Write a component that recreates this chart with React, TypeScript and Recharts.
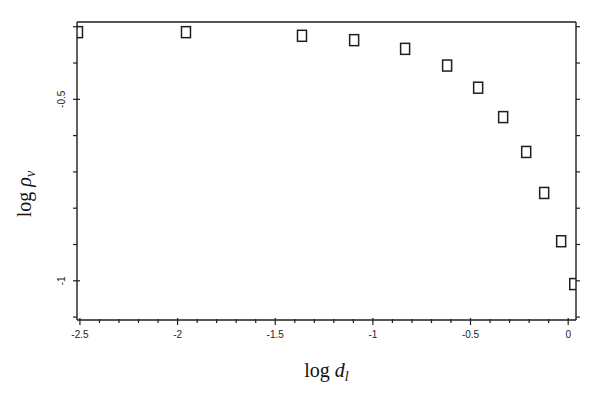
import React from 'react';
import { ScatterChart, Scatter, XAxis, YAxis, Label } from 'recharts';

// values
const logD = [-2.51, -1.957, -1.363, -1.096, -0.835, -0.62, -0.461, -0.333, -0.215, -0.123, -0.036, 0.031];
const logRho = [-0.315, -0.315, -0.325, -0.337, -0.361, -0.407, -0.468, -0.549, -0.645, -0.758, -0.891, -1.009];

const xTicks = [-2.5, -2.4, -2.3, -2.2, -2.1, -2, -1.9, -1.8, -1.7, -1.6, -1.5, -1.4, -1.3, -1.2, -1.1, -1, -0.9, -0.8, -0.7, -0.6, -0.5, -0.4, -0.3, -0.2, -0.1, 0];
const xLabels = ['-2.5', '-2', '-1.5', '-1', '-0.5', '0'];
const yTicks = [-0.3, -0.4, -0.5, -0.6, -0.7, -0.8, -0.9, -1, -1.1];
const yLabels = ['-0.5', '-1'];

const xDomain = [-2.515, 0.04];
const yDomain = [-1.108, -0.287];

const INK = '#1e1e1e';
const SANS = '"Liberation Sans", Arial, sans-serif';
const SERIF = '"Liberation Serif", "Times New Roman", serif';

const data = logD.map((x, i) => ({ x, y: logRho[i] }));

const BottomTick = ({ x, y, payload }: any) => {
  const label = String(payload.value);
  const major = xLabels.includes(label);
  return (
    <g>
      <line x1={x} x2={x} y1={major ? y - 2 : y - 1} y2={major ? y + 5 : y + 3} stroke={INK} strokeWidth={1.2} />
      {major && (
        <text x={x} y={y + 18} textAnchor="middle" fontSize={10} fontFamily={SANS} fill={INK}>
          {label}
        </text>
      )}
    </g>
  );
};

const TopTick = ({ x, y, payload }: any) => {
  const major = xLabels.includes(String(payload.value));
  return <line x1={x} x2={x} y1={y} y2={major ? y - 7 : y - 4} stroke={INK} strokeWidth={1.2} />;
};

const LeftTick = ({ x, y, payload }: any) => {
  const label = String(payload.value);
  const major = yLabels.includes(label);
  return (
    <g>
      <line x1={x - 4} x2={major ? x + 3 : x} y1={y} y2={y} stroke={INK} strokeWidth={1.2} />
      {major && (
        <text
          x={x - 15}
          y={y}
          textAnchor="middle"
          dominantBaseline="central"
          fontSize={10}
          fontFamily={SANS}
          fill={INK}
          transform={`rotate(-90, ${x - 15}, ${y})`}
        >
          {label}
        </text>
      )}
    </g>
  );
};

const RightTick = ({ x, y }: any) => (
  <line x1={x} x2={x + 4} y1={y} y2={y} stroke={INK} strokeWidth={1.2} />
);

const XTitle = ({ viewBox }: any) => {
  const cx = viewBox.x + viewBox.width / 2;
  const by = viewBox.y + 57;
  return (
    <text x={cx} y={by} textAnchor="middle" fontSize={20} fontFamily={SERIF} fill="#111">
      log <tspan fontStyle="italic">d</tspan>
      <tspan fontStyle="italic" fontSize={14} dy={4}>l</tspan>
    </text>
  );
};

const YTitle = ({ viewBox }: any) => {
  const cx = 31;
  const cy = viewBox.y + viewBox.height / 2 + 23;
  return (
    <text
      x={cx}
      y={cy}
      textAnchor="middle"
      fontSize={20}
      fontFamily={SERIF}
      fill="#111"
      transform={`rotate(-90, ${cx}, ${cy})`}
    >
      log <tspan fontStyle="italic">ρ</tspan>
      <tspan fontStyle="italic" fontSize={14} dy={4}>v</tspan>
    </text>
  );
};

const Square = ({ cx, cy }: any) => (
  <rect x={cx - 4.5} y={cy - 5.5} width={9} height={11} fill="none" stroke={INK} strokeWidth={1.5} />
);

export default function App() {
  return (
    <div style={{ width: 598, height: 400, background: '#fff' }}>
      <style>{'body{margin:0}'}</style>
      <ScatterChart width={598} height={400} margin={{ top: 0, right: 0, bottom: 0, left: 0 }}>
        <XAxis
          xAxisId="b"
          dataKey="x"
          type="number"
          domain={xDomain}
          ticks={xTicks}
          allowDataOverflow
          height={80}
          tickSize={0}
          tickMargin={0}
          tickLine={false}
          tick={<BottomTick />}
          axisLine={{ stroke: INK, strokeWidth: 1.4 }}
          interval={0}
        >
          <Label content={<XTitle />} />
        </XAxis>
        <XAxis
          xAxisId="t"
          orientation="top"
          type="number"
          domain={xDomain}
          ticks={xTicks}
          allowDataOverflow
          height={22}
          tickSize={0}
          tickMargin={0}
          tickLine={false}
          tick={<TopTick />}
          axisLine={{ stroke: INK, strokeWidth: 1.4 }}
          interval={0}
        />
        <YAxis
          yAxisId="l"
          dataKey="y"
          type="number"
          domain={yDomain}
          ticks={yTicks}
          allowDataOverflow
          width={77}
          tickSize={0}
          tickMargin={0}
          tickLine={false}
          tick={<LeftTick />}
          axisLine={{ stroke: INK, strokeWidth: 1.4 }}
          interval={0}
        >
          <Label content={<YTitle />} />
        </YAxis>
        <YAxis
          yAxisId="r"
          orientation="right"
          type="number"
          domain={yDomain}
          ticks={yTicks}
          allowDataOverflow
          width={22}
          tickSize={0}
          tickMargin={0}
          tickLine={false}
          tick={<RightTick />}
          axisLine={{ stroke: INK, strokeWidth: 1.4 }}
          interval={0}
        />
        <Scatter data={data} xAxisId="b" yAxisId="l" shape={<Square />} isAnimationActive={false} />
      </ScatterChart>
    </div>
  );
}
